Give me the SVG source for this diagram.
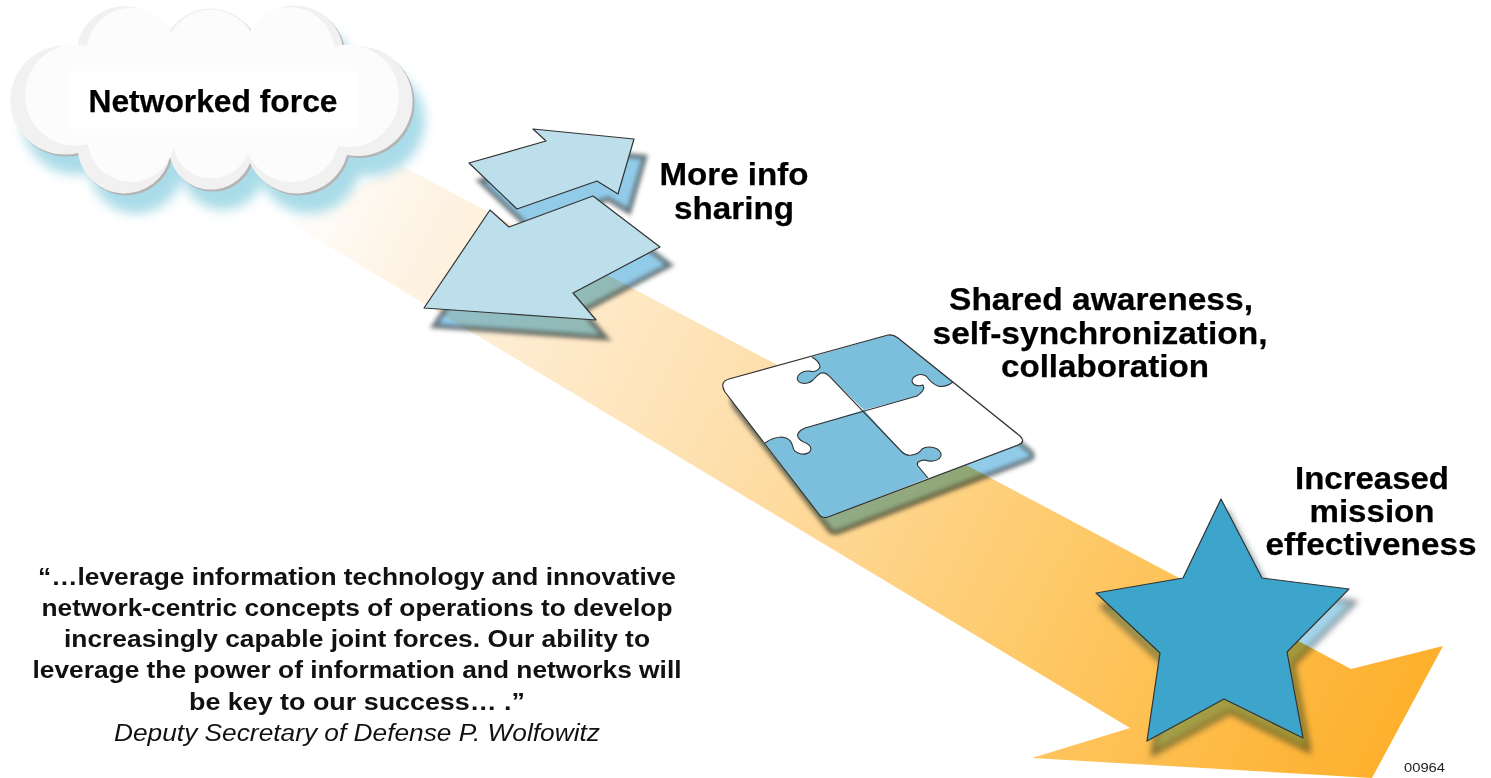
<svg xmlns="http://www.w3.org/2000/svg" width="1491" height="778" viewBox="0 0 1491 778">
<style>
.h{font-family:"Liberation Sans",Arial,sans-serif;font-weight:700;font-size:31px;fill:#000;text-anchor:middle;stroke:#000;stroke-width:.25px}
.q{font-family:"Liberation Sans",Arial,sans-serif;font-weight:700;font-size:24.2px;fill:#111;text-anchor:middle}
.i{font-family:"Liberation Sans",Arial,sans-serif;font-style:italic;font-size:24.2px;fill:#111;text-anchor:middle}
.n{font-family:"Liberation Sans",Arial,sans-serif;font-size:13px;fill:#222}
.e{stroke:#333;stroke-width:1.2;stroke-linejoin:round}
.sd{fill:none;stroke:#8a8a8a;stroke-width:5;mix-blend-mode:multiply;filter:url(#b2)}
.sb{fill:#92cbe8;mix-blend-mode:multiply;filter:url(#b2)}
.sd2{fill:none;stroke:#9a9a9a;stroke-width:4;mix-blend-mode:multiply;filter:url(#b3)}
.sb2{fill:#a4d4ea;mix-blend-mode:multiply;filter:url(#b3)}
</style>
<defs>
<linearGradient id="band" gradientUnits="userSpaceOnUse" x1="300" y1="170" x2="1400" y2="735">
<stop offset="0" stop-color="#fff"/>
<stop offset=".1" stop-color="#fef4e6"/>
<stop offset=".4" stop-color="#fee0ae"/>
<stop offset=".7" stop-color="#fec968"/>
<stop offset="1" stop-color="#fdb02c"/>
</linearGradient>
<filter id="b2" x="-20%" y="-20%" width="140%" height="140%"><feGaussianBlur stdDeviation="2"/></filter>
<filter id="b3" x="-20%" y="-20%" width="140%" height="140%"><feGaussianBlur stdDeviation="3"/></filter>
<filter id="b6" x="-20%" y="-20%" width="140%" height="140%"><feGaussianBlur stdDeviation="6"/></filter>
<path id="cl" d="M77 47A48.3 48.3 0 0 1 168 33A48.7 48.7 0 0 1 252 32A48.3 48.3 0 0 1 343 48A55 55 0 1 1 347 155A51.6 51.6 0 0 1 250 163A42 42 0 0 1 170 157A46.8 46.8 0 0 1 78 153A54.5 54.5 0 1 1 77 47Z"/>
<path id="a1" d="M469 163L546 141L533 129L634 139L618 194L597 181L517 209Z"/>
<path id="a2" d="M490 210L509 227L593 196L660 247L573 293L596 320L424 308Z"/>
<path id="pz" d="M729 379L888 335Q893 334 898 338L1020 436Q1026 442 1018 445L828 517Q821 519 818 513L725 392Q719 382 729 379Z"/>
<path id="st" d="M1221 499L1262 578L1349 589L1287 652L1303 738L1224 699L1147 741L1160 653L1096 593L1183 578Z"/>
</defs>
<rect width="1491" height="778" fill="#fff"/>
<g id="connectors">
<path d="M400 165L1351 669L1443 646L1372 778L1032 758L1130 728L290 223Z" fill="url(#band)"/>
</g>
<g id="cloud">
<use href="#cl" transform="translate(12,20)" fill="#a9dbe8" filter="url(#b6)"/>
<use href="#cl" transform="translate(2,2)" fill="#b4b4b4"/>
<use href="#cl" fill="#f1f1f1"/>
<use href="#cl" transform="translate(212.5,95) scale(.93) translate(-212,-100)" fill="#fcfcfc"/>
<rect x="68" y="71" width="290" height="58" fill="#fff"/>
<text class="h" x="213" y="112" textLength="249" lengthAdjust="spacingAndGlyphs">Networked force</text>
</g>
<g id="info-arrows">
<use href="#a1" class="sb" transform="translate(11,18)"/>
<use href="#a1" class="sd" transform="translate(11,18)"/>
<use href="#a2" class="sb" transform="translate(10,18)"/>
<use href="#a2" class="sd" transform="translate(10,18)"/>
<use href="#a1" class="e" fill="#bddfec"/>
<use href="#a2" class="e" fill="#bddfec"/>
<text class="h" x="734" y="185" textLength="149" lengthAdjust="spacingAndGlyphs">More info</text>
<text class="h" x="734" y="219" textLength="120" lengthAdjust="spacingAndGlyphs">sharing</text>
</g>
<g id="puzzle">
<use href="#pz" class="sb" transform="translate(10,15)"/>
<use href="#pz" class="sd" transform="translate(10,15)"/>
<use href="#pz" fill="#fff"/>
<path d="M812 357L888 335Q893 334 898 338L953 382Q945 388 938 386Q932 384 927 377A8 5.5 -10 1 0 923 385Q926 390 917 396L864 410L830 377Q826 372 821 373Q817 375 813 380A9 6 -15 1 1 809 371Q817 373 820 367Q820 362 812 357Z" fill="#7bbfdc"/>
<path d="M864 410L805 428Q796 432 798 437Q800 441 806 443A9 6 10 1 1 793 447Q791 438 782 437Q773 437 765 443L818 513Q821 519 828 517L928 478L918 466Q915 461 925 460A11 7 5 1 0 922 449Q919 454 912 455Q906 456 902 452Z" fill="#7bbfdc"/>
<path d="M812 357Q820 362 820 367Q817 373 809 371A9 6 -15 1 0 813 380Q817 375 821 373Q826 372 830 377L902 452Q906 456 912 455Q919 454 922 449A11 7 5 1 1 925 460Q915 461 918 466L928 478M953 382Q945 388 938 386Q932 384 927 377A8 5.5 -10 1 0 923 385Q926 390 917 396L805 428Q796 432 798 437Q800 441 806 443A9 6 10 1 1 793 447Q791 438 782 437Q773 437 765 443" fill="none" stroke="#333" stroke-width="1.1"/>
<use href="#pz" class="e" fill="none"/>
<text class="h" x="1101" y="310" textLength="304" lengthAdjust="spacingAndGlyphs">Shared awareness,</text>
<text class="h" x="1100" y="344" textLength="335" lengthAdjust="spacingAndGlyphs">self-synchronization,</text>
<text class="h" x="1105" y="377" textLength="208" lengthAdjust="spacingAndGlyphs">collaboration</text>
</g>
<g id="star">
<use href="#st" class="sb2" transform="translate(6,13)"/>
<use href="#st" class="sd2" transform="translate(6,13)"/>
<use href="#st" class="e" fill="#3da5cc"/>
<text class="h" x="1372" y="489" textLength="154" lengthAdjust="spacingAndGlyphs">Increased</text>
<text class="h" x="1372" y="522" textLength="125" lengthAdjust="spacingAndGlyphs">mission</text>
<text class="h" x="1371" y="555" textLength="211" lengthAdjust="spacingAndGlyphs">effectiveness</text>
</g>
<g id="quote">
<text class="q" x="357" y="585" textLength="638" lengthAdjust="spacingAndGlyphs">“…leverage information technology and innovative</text>
<text class="q" x="357" y="616" textLength="631" lengthAdjust="spacingAndGlyphs">network-centric concepts of operations to develop</text>
<text class="q" x="357" y="647" textLength="586" lengthAdjust="spacingAndGlyphs">increasingly capable joint forces. Our ability to</text>
<text class="q" x="357" y="678" textLength="649" lengthAdjust="spacingAndGlyphs">leverage the power of information and networks will</text>
<text class="q" x="357" y="710" textLength="336" lengthAdjust="spacingAndGlyphs">be key to our success… .”</text>
<text class="i" x="357" y="741" textLength="486" lengthAdjust="spacingAndGlyphs">Deputy Secretary of Defense P. Wolfowitz</text>
</g>
<text class="n" x="1404" y="772" textLength="41" lengthAdjust="spacingAndGlyphs">00964</text>
</svg>
